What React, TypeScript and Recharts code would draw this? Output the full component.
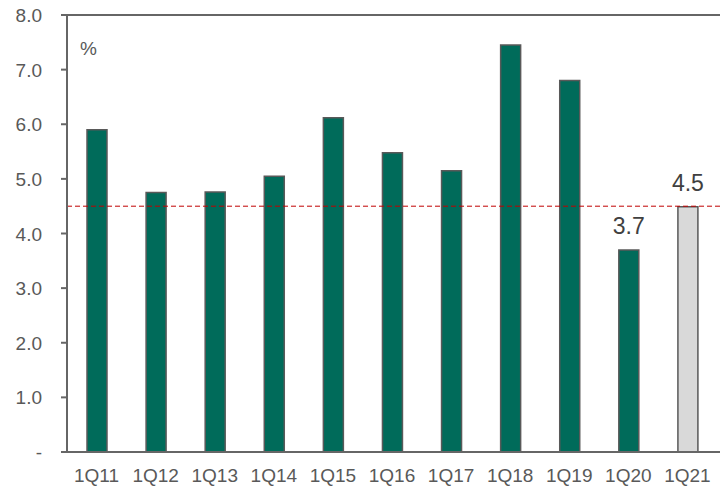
import { BarChart, Bar, XAxis, YAxis, ReferenceLine, LabelList, Cell } from "recharts";

const quarters = ["1Q11", "1Q12", "1Q13", "1Q14", "1Q15", "1Q16", "1Q17", "1Q18", "1Q19", "1Q20", "1Q21"];
const values = [5.9, 4.75, 4.76, 5.05, 6.12, 5.48, 5.15, 7.45, 6.8, 3.7, 4.49];
const labels = ["", "", "", "", "", "", "", "", "", "3.7", "4.5"];
const yTicks = [0, 1, 2, 3, 4, 5, 6, 7, 8];
const average = 4.5;

const data = quarters.map((q, i) => ({ name: q, value: values[i], label: labels[i] }));

const font = "'Liberation Sans', Arial, sans-serif";

// explicit text elements so the font size really sticks
const XTick = (props: any) => (
  <text x={props.x} y={props.y} dy={30} textAnchor="middle" fontSize={19} fontFamily={font} fill="#595959">
    {props.payload.value}
  </text>
);

const YTick = (props: any) => (
  <text x={props.x} y={props.y} dy={7} textAnchor="end" fontSize={19} fontFamily={font} fill="#595959">
    {props.payload.value === 0 ? "-" : Number(props.payload.value).toFixed(1)}
  </text>
);

export default function App() {
  return (
    <div style={{ position: "absolute", left: 0, top: 0, width: 720, height: 486, fontFamily: font }}>
      <BarChart
        width={720}
        height={486}
        data={data}
        margin={{ top: 15, right: 0, bottom: 0, left: 0 }}
        barCategoryGap={0}
      >
        <XAxis
          dataKey="name"
          tickLine={false}
          tickSize={0}
          tickMargin={0}
          axisLine={{ stroke: "#666666", strokeWidth: 2 }}
          tick={<XTick />}
          height={34}
          padding={{ left: 0, right: 3 }}
          interval={0}
        />
        <YAxis
          domain={[0, 8]}
          ticks={yTicks}
          width={67}
          tickSize={6}
          tickMargin={19}
          tickLine={{ stroke: "#666666", strokeWidth: 2 }}
          axisLine={{ stroke: "#666666", strokeWidth: 2 }}
          tick={<YTick />}
        />
        <ReferenceLine y={8} stroke="#666666" strokeWidth={2} />
        <Bar dataKey="value" barSize={20} stroke="#595959" strokeWidth={1.5} isAnimationActive={false}>
          {data.map((d, i) => (
            <Cell key={d.name} fill={i === data.length - 1 ? "#d9d9d9" : "#006b5a"} />
          ))}
          <LabelList
            dataKey="label"
            position="top"
            offset={16}
            style={{ fill: "#404040", fontSize: 23, fontFamily: font }}
          />
        </Bar>
        <ReferenceLine y={average} stroke="#c00000" strokeWidth={1} strokeDasharray="5 3" />
      </BarChart>
      <div style={{ position: "absolute", left: 80, top: 39, fontSize: 19, lineHeight: 1, color: "#595959" }}>%</div>
    </div>
  );
}
